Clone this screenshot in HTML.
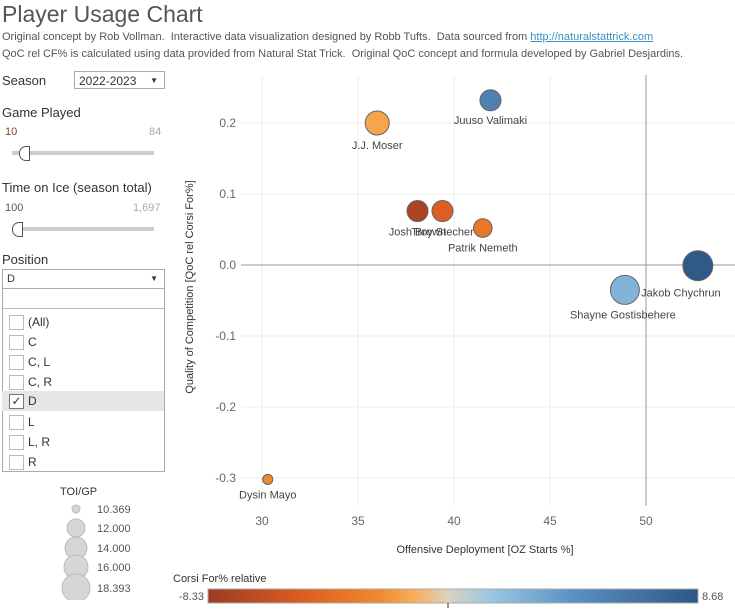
<!DOCTYPE html>
<html><head><meta charset="utf-8"><style>
body{margin:0;width:735px;height:609px;background:#fff;font-family:"Liberation Sans",sans-serif;color:#333;overflow:hidden;position:relative}
.a{position:absolute;white-space:nowrap}
.cb{position:absolute;left:7px;width:13px;height:13px;border:1px solid #bbb;background:#fff}
.li{position:absolute;left:2px;width:162px;height:20px;font-size:12px;color:#333}
.li span{position:absolute;left:26px;top:3px}
</style></head><body>
<div class="a" style="left:2px;top:1px;font-size:23px;color:#555">Player Usage Chart</div>
<div class="a" style="left:2px;top:31px;font-size:11px;color:#555">Original concept by Rob Vollman.&nbsp; Interactive data visualization designed by Robb Tufts.&nbsp; Data sourced from <span style="color:#3a8fc4;text-decoration:underline">http://naturalstattrick.com</span></div>
<div class="a" style="left:2px;top:48px;font-size:11px;color:#555">QoC rel CF% is calculated using data provided from Natural Stat Trick.&nbsp; Original QoC concept and formula developed by Gabriel Desjardins.</div>

<div class="a" style="left:2px;top:73px;font-size:13px">Season</div>
<div class="a" style="left:74px;top:71px;height:18px;border:1px solid #aaa;font-size:12px;line-height:18px;padding-left:4px;box-sizing:border-box;width:91px">2022-2023<span style="position:absolute;right:6px;font-size:8px">▼</span></div>
<div class="a" style="left:2px;top:105px;font-size:13px">Game Played</div>
<div class="a" style="left:5px;top:126px;font-size:11px;color:#8b3a2a">10</div>
<div class="a" style="left:149px;top:126px;font-size:11px;color:#aaa">84</div>
<div class="a" style="left:12px;top:151px;width:142px;height:4px;background:#ccc"></div>
<div class="a" style="left:19px;top:146px;width:9px;height:13px;border:1px solid #555;border-radius:7px 0 0 7px;background:#fff"></div>
<div class="a" style="left:2px;top:180px;font-size:13px">Time on Ice (season total)</div>
<div class="a" style="left:5px;top:202px;font-size:11px;color:#555">100</div>
<div class="a" style="left:133px;top:202px;font-size:11px;color:#aaa">1,697</div>
<div class="a" style="left:12px;top:227px;width:142px;height:4px;background:#ccc"></div>
<div class="a" style="left:12px;top:222px;width:9px;height:13px;border:1px solid #555;border-radius:7px 0 0 7px;background:#fff"></div>
<div class="a" style="left:2px;top:252px;font-size:13px">Position</div>
<div class="a" style="left:2px;top:269px;width:163px;height:20px;border:1px solid #aaa;box-sizing:border-box;font-size:11px;line-height:18px;padding-left:4px">D<span style="position:absolute;right:6px;font-size:8px">▼</span></div>
<div class="a" style="left:2px;top:288px;width:163px;height:184px;border:1px solid #aaa;box-sizing:border-box">
<div class="a" style="left:0;top:0;width:161px;height:19px;border-bottom:1px solid #bbb"></div>
</div>
<div class="li" style="top:312px"><div class="cb" style="top:3px"></div><span>(All)</span></div>
<div class="li" style="top:332px"><div class="cb" style="top:3px"></div><span>C</span></div>
<div class="li" style="top:352px"><div class="cb" style="top:3px"></div><span>C, L</span></div>
<div class="li" style="top:372px"><div class="cb" style="top:3px"></div><span>C, R</span></div>
<div class="li" style="top:391px;background:#e6e6e6"><div class="cb" style="top:3px;border-color:#777;text-align:center;font-size:12px;line-height:13px">✓</div><span>D</span></div>
<div class="li" style="top:412px"><div class="cb" style="top:3px"></div><span>L</span></div>
<div class="li" style="top:432px"><div class="cb" style="top:3px"></div><span>L, R</span></div>
<div class="li" style="top:452px"><div class="cb" style="top:3px"></div><span>R</span></div>

<div class="a" style="left:60px;top:486px;font-size:11px">TOI/GP</div>
<svg class="a" style="left:55px;top:500px" width="120" height="100">
<g fill="#d6d6d6" stroke="#bbb">
<circle cx="21" cy="9" r="4"/><circle cx="21" cy="28" r="9"/><circle cx="21" cy="48" r="11"/><circle cx="21" cy="67" r="12"/><circle cx="21" cy="88" r="14"/></g>
<g font-size="11" fill="#555"><text x="42" y="13">10.369</text><text x="42" y="32">12.000</text><text x="42" y="52">14.000</text><text x="42" y="71">16.000</text><text x="42" y="92">18.393</text></g>
</svg>

<svg id="chart" class="a" style="left:0;top:0" width="735" height="609">
<defs><linearGradient id="grad" x1="0" x2="1">
<stop offset="0" stop-color="#9c3b24"/><stop offset="0.2" stop-color="#de5f20"/><stop offset="0.35" stop-color="#f08a2e"/><stop offset="0.42" stop-color="#f9ad5a"/><stop offset="0.49" stop-color="#ddd2c0"/><stop offset="0.58" stop-color="#96c7e3"/><stop offset="0.75" stop-color="#5a8fc0"/><stop offset="1" stop-color="#2b5885"/></linearGradient></defs>
<g id="grid"></g><g id="marks"></g>
<text transform="translate(193,287) rotate(-90)" text-anchor="middle" font-size="11" fill="#333">Quality of Competition [QoC rel Corsi For%]</text>
<text x="485" y="553" text-anchor="middle" font-size="11" fill="#333">Offensive Deployment [OZ Starts %]</text>
<text x="173" y="582" font-size="11" fill="#333">Corsi For% relative</text>
<rect x="208" y="589" width="490" height="14" fill="url(#grad)" stroke="#aaa"/>
<line x1="448" y1="603" x2="448" y2="608" stroke="#333"/>
<text x="204" y="600" text-anchor="end" font-size="11" fill="#555">-8.33</text>
<text x="702" y="600" font-size="11" fill="#555">8.68</text>
</svg>
<script>
const players=["Juuso Valimaki","J.J. Moser","Josh Brown","Troy Stecher","Patrik Nemeth","Jakob Chychrun","Shayne Gostisbehere","Dysin Mayo"];
const ozStarts=[41.9,36.0,38.1,39.4,41.5,52.7,48.9,30.3];
const qoc=[0.232,0.200,0.076,0.076,0.052,-0.001,-0.035,-0.302];
const toiGp=[14.8,16.0,14.8,14.8,13.8,18.39,18.0,10.4];
const corsiRel=[5.5,-1.5,-7.5,-5.0,-3.5,8.5,2.5,-2.5];
const xTicks=[30,35,40,45,50];
const yTicks=[0.2,0.1,0.0,-0.1,-0.2,-0.3];
const NS="http://www.w3.org/2000/svg";
const L=241,R=735,T=75,B=506;
const xs=v=>262+(v-30)*19.2;
const ys=v=>265-v*710;
const rs=v=>5+(v-10.369)/(18.393-10.369)*10;
const stops=[[-8.33,[156,59,36]],[-4.93,[222,95,32]],[-2.38,[240,138,46]],[-1.19,[249,173,90]],[0,[221,210,192]],[1.53,[150,199,227]],[4.42,[90,143,192]],[8.68,[43,88,133]]];
function col(v){for(let i=1;i<stops.length;i++){if(v<=stops[i][0]){const a=stops[i-1],b=stops[i],t=(v-a[0])/(b[0]-a[0]);return 'rgb('+a[1].map((c,k)=>Math.round(c+(b[1][k]-c)*t)).join(',')+')';}}return 'rgb(43,88,133)';}
function mk(t,at,p){const e=document.createElementNS(NS,t);for(const k in at)e.setAttribute(k,at[k]);p.appendChild(e);return e;}
const g=document.getElementById('grid'),m=document.getElementById('marks');
xTicks.forEach(v=>{const ln=mk('line',{x1:xs(v),x2:xs(v),y1:T,y2:B,stroke:'#ececec'},g);


const t=mk('text',{x:xs(v),y:525,'text-anchor':'middle','font-size':12,fill:'#666'},g);t.textContent=v;

});
yTicks.forEach(v=>{const ln=mk('line',{x1:L,x2:R,y1:ys(v),y2:ys(v),stroke:'#ececec'},g);


const t=mk('text',{x:236,y:ys(v)+4,'text-anchor':'end','font-size':12,fill:'#666'},g);t.textContent=v.toFixed(1);

});
const rx=mk('line',{x1:L,x2:R,y1:ys(0),y2:ys(0),stroke:'#999'},g);


const ry=mk('line',{x1:xs(50),x2:xs(50),y1:T,y2:B,stroke:'#999'},g);


players.forEach((p,i)=>{const cx=xs(ozStarts[i]),cy=ys(qoc[i]),r=rs(toiGp[i]);
const c=mk('circle',{cx:cx,cy:cy,r:r,fill:col(corsiRel[i]),stroke:'#666','stroke-width':1},m);


let tx=cx,ty=cy+r+14,anc='middle';
if(i==5){tx=cx-r-2;ty=cy+31;}
if(i==6){ty=cy+r+14;tx=cx-2;}
if(i==0){ty=cy+r+13;}
const t=mk('text',{x:tx,y:ty,'text-anchor':anc,'font-size':11,fill:'#444'},m);t.textContent=p;

});
</script>
</body></html>
